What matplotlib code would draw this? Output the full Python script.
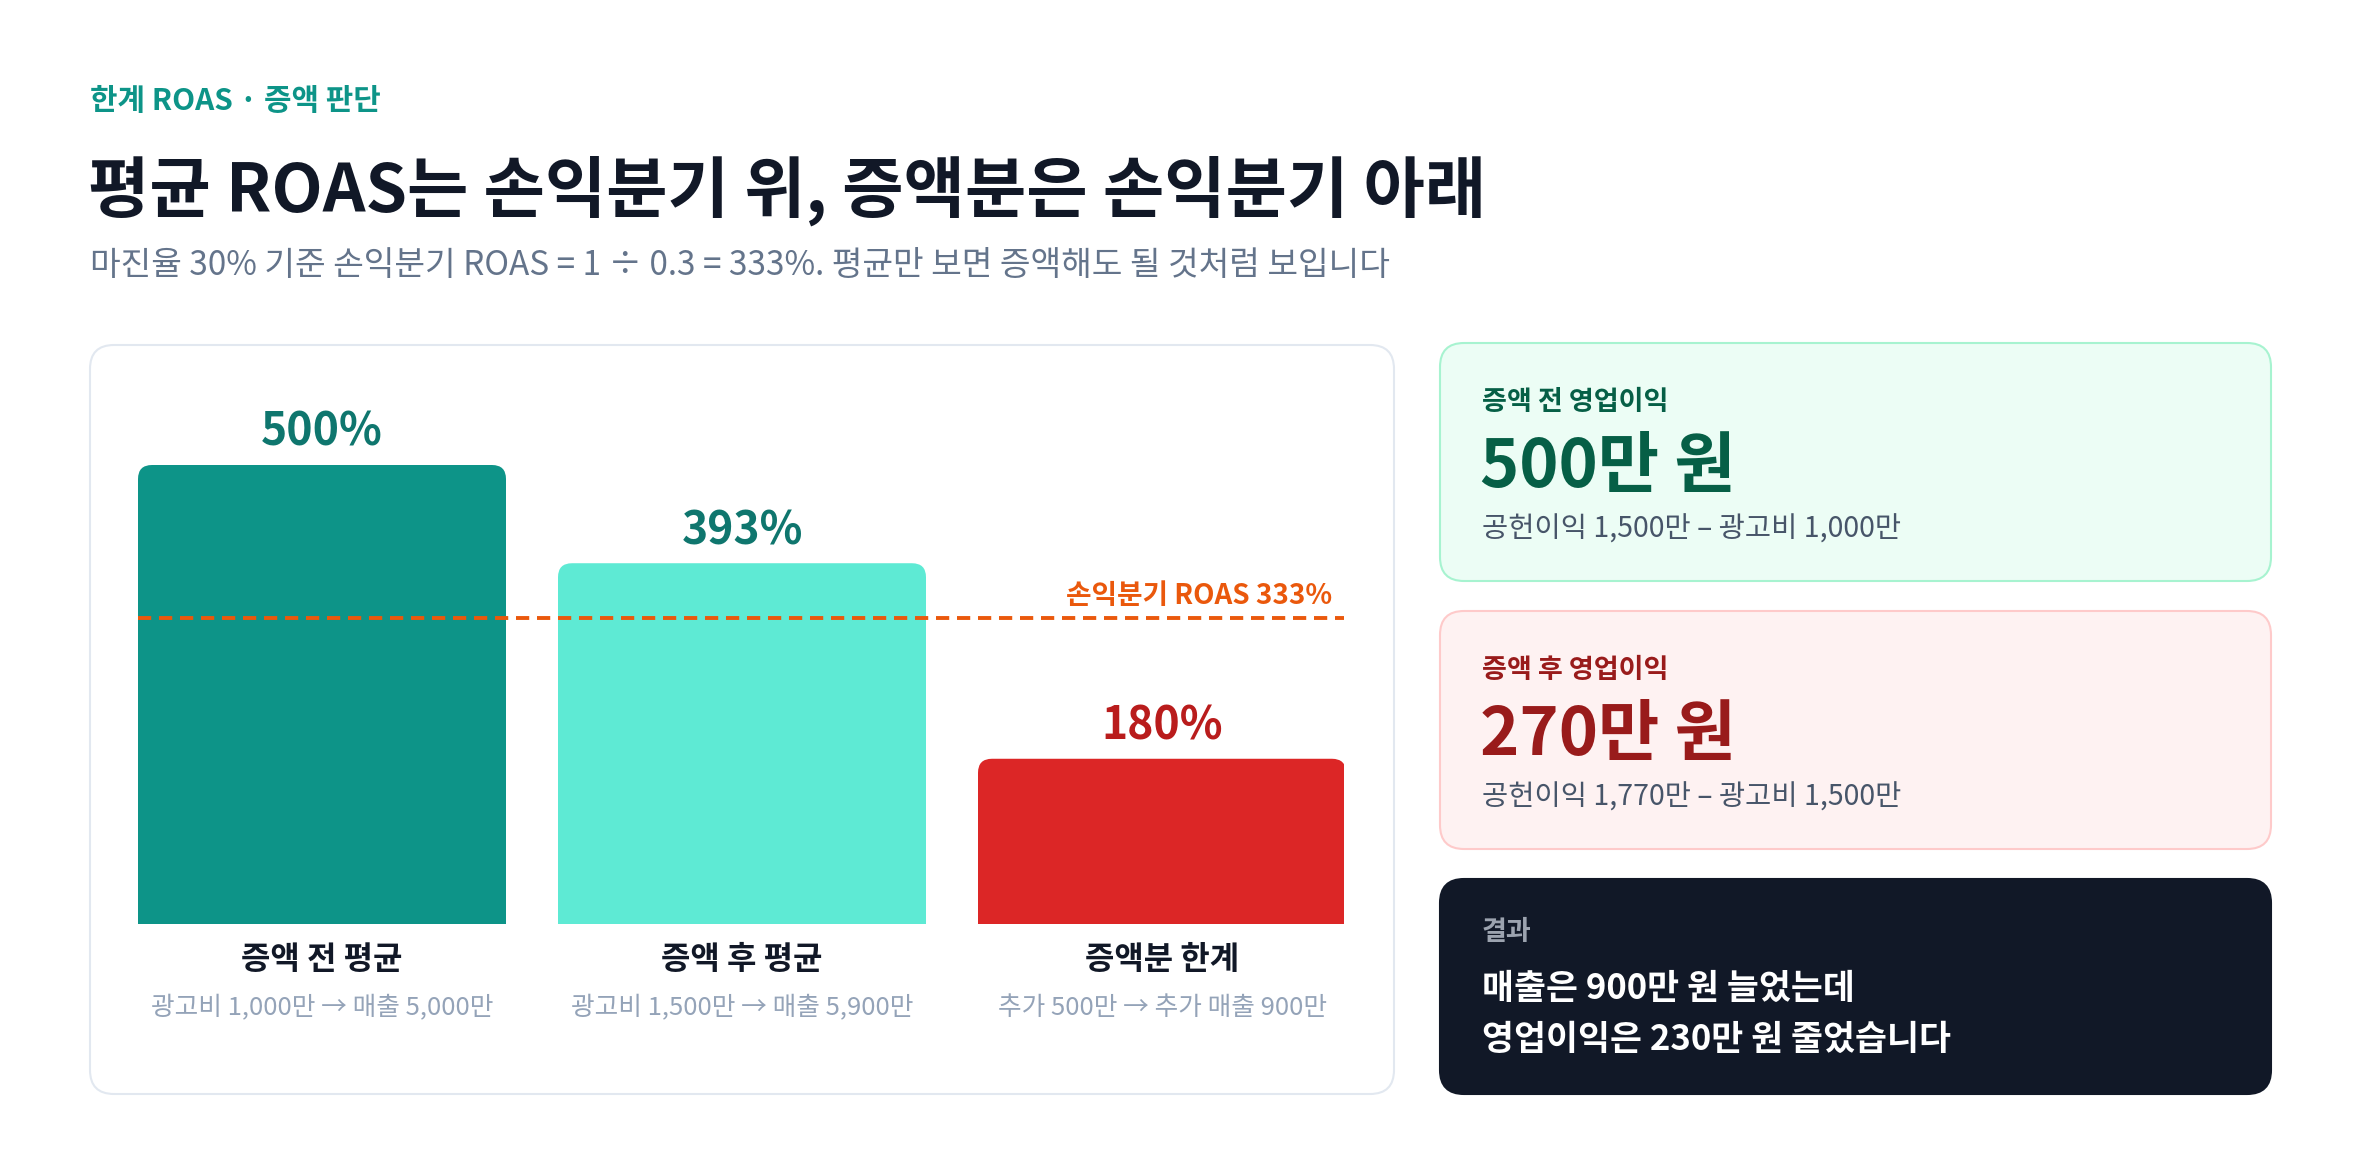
import matplotlib.pyplot as plt
from matplotlib.patches import FancyBboxPatch
import numpy as np

plt.rcParams['font.family'] = ['Noto Sans CJK KR', 'DejaVu Sans']

# 데이터
categories = ['증액 전 평균', '증액 후 평균', '증액분 한계']
roas = [500, 393, 180]
details = ['광고비 1,000만 → 매출 5,000만', '광고비 1,500만 → 매출 5,900만', '추가 500만 → 추가 매출 900만']
breakeven = 333

card_titles = ['증액 전 영업이익', '증액 후 영업이익']
card_values = ['500만 원', '270만 원']
card_formulas = ['공헌이익 1,500만 – 광고비 1,000만', '공헌이익 1,770만 – 광고비 1,500만']
result_title = '결과'
result_lines = ['매출은 900만 원 늘었는데', '영업이익은 230만 원 줄었습니다']

bar_colors = ['#0d9488', '#5eead4', '#dc2626']
label_colors = ['#0f766e', '#0f766e', '#b91c1c']

W, H = 2360, 1170
fig = plt.figure(figsize=(W / 100, H / 100), dpi=100)
fig.patch.set_facecolor('white')

# 배경 (픽셀 좌표)
bg = fig.add_axes([0, 0, 1, 1], zorder=0)
bg.set_xlim(0, W)
bg.set_ylim(H, 0)
bg.axis('off')


def card(x0, y0, x1, y1, face, edge, r=24):
    p = FancyBboxPatch((x0, y0), x1 - x0, y1 - y0,
                       boxstyle=f'round,pad=0,rounding_size={r}',
                       facecolor=face, edgecolor=edge, linewidth=1.5)
    bg.add_patch(p)


bg.text(90, 101, '한계 ROAS · 증액 판단', fontsize=21.5, fontweight='bold',
        color='#0d9488', va='center', ha='left')
bg.text(88, 191, '평균 ROAS는 손익분기 위, 증액분은 손익분기 아래', fontsize=48,
        fontweight='bold', color='#111827', va='center', ha='left')
bg.text(90, 266, '마진율 30% 기준 손익분기 ROAS = 1 ÷ 0.3 = 333%. 평균만 보면 증액해도 될 것처럼 보입니다',
        fontsize=24, color='#64748b', va='center', ha='left')

card(90, 345, 1394, 1094, 'white', '#e2e8f0')

# 오른쪽 카드
card_tops = [343, 611]
card_faces = ['#ecfdf5', '#fef2f2']
card_edges = ['#a7f3d0', '#fecaca']
card_text = ['#065f46', '#991b1b']
for i in range(2):
    top = card_tops[i]
    card(1440, top, 2271, top + 238, card_faces[i], card_edges[i])
    bg.text(1482, top + 59, card_titles[i], fontsize=19.5, fontweight='bold',
            color=card_text[i], va='center')
    bg.text(1480, top + 124, card_values[i], fontsize=48, fontweight='bold',
            color=card_text[i], va='center')
    bg.text(1482, top + 187, card_formulas[i], fontsize=20.5,
            color='#475569', va='center')

card(1440, 879, 2271, 1094, '#111827', '#111827')
bg.text(1482, 932, result_title, fontsize=19.5, fontweight='bold', color='#9ca3af', va='center')
bg.text(1482, 988, result_lines[0], fontsize=25, fontweight='bold', color='white', va='center')
bg.text(1482, 1039, result_lines[1], fontsize=25, fontweight='bold', color='white', va='center')

# 막대 차트
px_per_unit_x = 420
x_left, x_right = 138, 1344
y_bottom, y_top = 924, 400
ax = fig.add_axes([x_left / W, 1 - y_bottom / H, (x_right - x_left) / W, (y_bottom - y_top) / H], zorder=1)
ax.patch.set_alpha(0)
xmin = -0.5 * 368 / px_per_unit_x
ax.set_xlim(xmin, xmin + (x_right - x_left) / px_per_unit_x)
px_per_unit_y = (924 - 465) / 500
ax.set_ylim(0, (y_bottom - y_top) / px_per_unit_y)
ax.axis('off')

x = np.arange(len(categories))
bw = 368 / px_per_unit_x
r_px = 14
rx = r_px / px_per_unit_x
ry = r_px / px_per_unit_y
ax.bar(x, np.array(roas) - ry, width=bw, color=bar_colors, linewidth=0)
for i, v in enumerate(roas):
    p = FancyBboxPatch((x[i] - bw / 2, 0), bw, v,
                       boxstyle=f'round,pad=0,rounding_size={rx}',
                       mutation_aspect=ry / rx, facecolor=bar_colors[i], linewidth=0)
    ax.add_patch(p)
    ax.annotate(f'{v}%', (x[i], v), xytext=(0, 32), textcoords='offset pixels',
                ha='center', va='center', fontsize=32, fontweight='bold',
                color=label_colors[i], annotation_clip=False)
    ax.annotate(categories[i], (x[i], 0), xytext=(0, -36), textcoords='offset pixels',
                ha='center', va='center', fontsize=23, fontweight='bold',
                color='#111827', annotation_clip=False)
    ax.annotate(details[i], (x[i], 0), xytext=(0, -84), textcoords='offset pixels',
                ha='center', va='center', fontsize=18.5, color='#94a3b8',
                annotation_clip=False)

xl = ax.get_xlim()
ax.plot(xl, [breakeven, breakeven], color='#ea580c', linewidth=2.8,
        linestyle=(0, (3.4, 2.0)), zorder=3)
ax.annotate(f'손익분기 ROAS {breakeven}%', (xl[1], breakeven), xytext=(-12, 22),
            textcoords='offset pixels', ha='right', va='center', fontsize=20,
            fontweight='bold', color='#ea580c', annotation_clip=False)

fig.savefig('out.png', dpi=100, facecolor='white')
